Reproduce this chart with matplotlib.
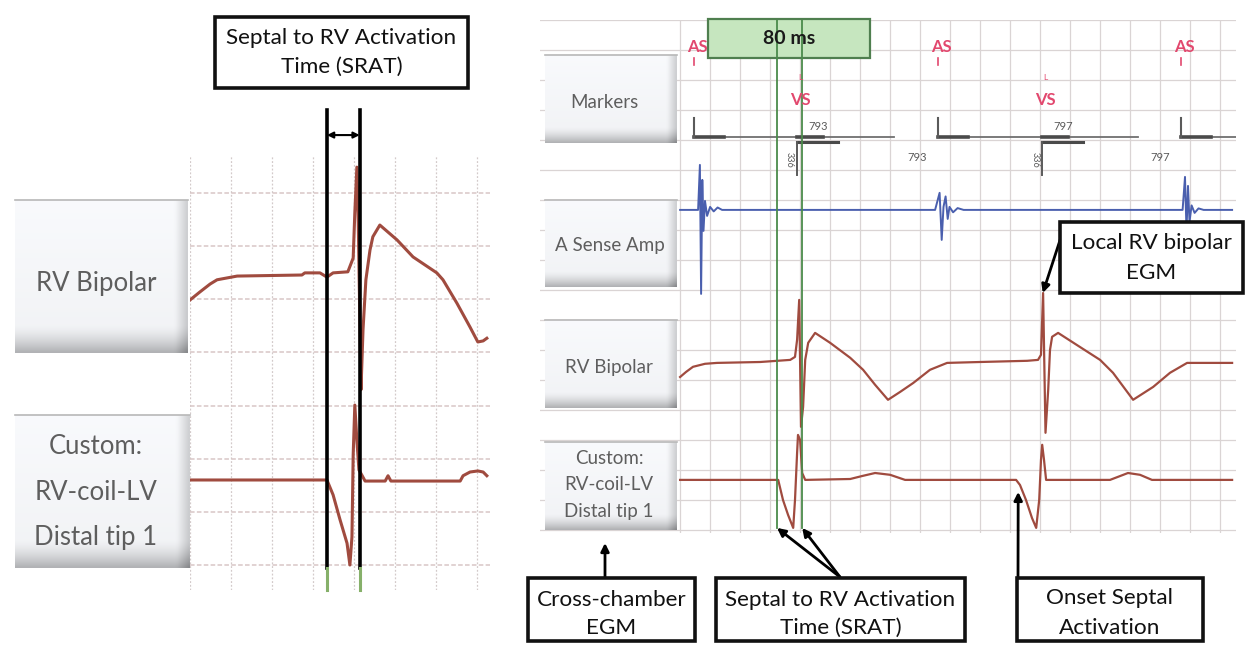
import numpy as np
import matplotlib.pyplot as plt
from matplotlib.patches import Rectangle

plt.rcParams['font.family'] = ['Lato', 'DejaVu Sans']

W, H = 1246, 649

# ---- right panel traces: time in ms, amplitude in grid divisions ----
asense_t = [0, 60, 66, 70, 74, 78, 83, 90, 100, 112, 125, 140,
            850, 865, 872, 878, 885, 892, 898, 910, 925, 945,
            1675, 1683, 1688, 1693, 1698, 1705, 1715, 1728, 1745, 1840]
asense_v = [0, 0, 1.5, -2.8, 1.0, -0.7, 0.3, -0.2, 0.1, -0.05, 0.08, 0,
            0, 0.57, -1.0, 0.1, 0.45, -0.3, 0.1, -0.08, 0.06, 0,
            0, 1.1, -0.7, 0.8, -0.4, 0.15, -0.1, 0.05, 0, 0]

rv_t = [0, 20, 43, 83, 123, 267, 367, 383, 390, 397, 403, 410, 417, 427, 450,
        500, 567, 610, 650, 693, 733, 777, 833, 890, 1000, 1157, 1193, 1203,
        1210, 1218, 1227, 1233, 1240, 1260, 1333, 1400, 1443, 1510, 1577, 1633,
        1690, 1840]
rv_v = [-0.47, -0.3, -0.13, -0.03, 0, 0.03, 0.1, 0.2, 0.77, 2.1, -2.13, -1.47,
        0.1, 0.67, 1.0, 0.67, 0.17, -0.23, -0.73, -1.23, -0.97, -0.67, -0.23, 0,
        0.03, 0.07, 0.1, 0.27, 2.33, -2.33, -0.9, 0.43, 0.87, 1.0, 0.53, 0.1,
        -0.33, -1.23, -0.8, -0.33, 0, 0]

cust_t = [0, 327, 343, 360, 377, 383, 390, 393, 400, 407, 417, 567, 607, 650,
          700, 750, 1120, 1133, 1153, 1173, 1187, 1197, 1203, 1207, 1213, 1220,
          1433, 1467, 1493, 1533, 1573, 1840]
cust_v = [0, 0, -0.67, -1.17, -1.6, -0.67, 0.9, 1.5, 1.33, 0.23, 0, 0.03, 0.13,
          0.23, 0.17, 0, 0, -0.17, -0.67, -1.27, -1.6, -0.67, 0.67, 1.17, 0.67,
          0, 0, 0.13, 0.23, 0.17, 0, 0]

# marker channel events (ms)
as_times = [47, 860, 1670]
vs_times = [390, 1207]
av_labels = ['336', '336']
vv_labels = ['793', '797']
aa_labels = ['793', '797']
srat_right = [323, 407]

# ---- left (zoomed) panel ----
lrv_t = [0, 24, 49, 66, 115, 273, 280, 317, 334, 349, 385, 398, 402, 407, 410,
         417, 422, 429, 439, 446, 463, 505, 544, 602, 617, 651, 683, 702, 715, 724]
lrv_v = [-0.47, -0.32, -0.17, -0.09, -0.02, 0, 0.04, 0.04, -0.04, 0.04, 0.06,
         0.32, 1.17, 2.03, 1.17, -2.16, -1.03, -0.09, 0.47, 0.72, 0.94, 0.66,
         0.34, 0.04, -0.09, -0.53, -0.98, -1.26, -1.24, -1.19]
lcu_t = [0, 334, 349, 366, 383, 390, 395, 398, 402, 407, 412, 420, 427, 476,
         483, 490, 659, 666, 683, 702, 715, 724]
lcu_v = [0, 0, -0.28, -0.75, -1.19, -1.6, -1.07, 0.47, 1.41, 0.75, 0.19, 0.08,
         -0.02, -0.02, 0.08, -0.02, -0.02, 0.08, 0.15, 0.17, 0.15, 0.08]
srat_left = [334, 414]

# channel baselines (grid divisions)
MK, AS_BASE, RV_BASE, CU_BASE = 13.1, 10.67, 5.57, 1.67
L_RV_BASE, L_CU_BASE = 5.457, 1.6

TRACE = '#a04b3f'
BLUE = '#4a5fae'
RED = '#e2486e'
GRAY = '#5a5a5a'
LABEL = '#5e5e5e'


def frac(x0, y0, x1, y1):
    return [x0 / W, 1 - y1 / H, (x1 - x0) / W, (y1 - y0) / H]


def pixel_axes(z):
    ax = fig.add_axes([0, 0, 1, 1], zorder=z)
    ax.set_xlim(0, W)
    ax.set_ylim(H, 0)
    ax.set_autoscale_on(False)
    ax.axis('off')
    ax.patch.set_alpha(0)
    return ax


def clean(ax):
    ax.patch.set_alpha(0)
    ax.tick_params(length=0, labelbottom=False, labelleft=False)
    for s in ax.spines.values():
        s.set_visible(False)


def button(ax, x0, y0, x1, y1):
    v = np.linspace(0, 1, 64)[:, None]
    u = np.linspace(0, 1, 64)[None, :]
    shade = 0.975 - 0.03 * v + 0.0 * u
    shade = shade - np.clip((v - 0.82) / 0.18, 0, 1) ** 1.5 * 0.25
    shade = shade - np.clip((u - 0.93) / 0.07, 0, 1) * 0.16
    img = np.dstack([shade, shade + 0.005, shade + 0.015]).clip(0, 1)
    ax.imshow(img, extent=(x0, x1, y1, y0), aspect='auto',
              interpolation='bilinear', zorder=2)
    ax.plot([x0, x1], [y0, y0], color='#b8b8b8', lw=1.2, zorder=3)


def lines_text(ax, x, ys, lines, size, color, weight='normal'):
    for y, s in zip(ys, lines):
        ax.text(x, y, s, ha='center', va='center', fontsize=size,
                color=color, fontweight=weight, zorder=5)


def note_box(ax, x0, y0, x1, y1, lines, ys, size=16.2):
    ax.add_patch(Rectangle((x0, y0), x1 - x0, y1 - y0, facecolor='white',
                           edgecolor='#111111', lw=2.6, zorder=4))
    lines_text(ax, (x0 + x1) / 2, ys, lines, size, '#111111')


fig = plt.figure(figsize=(W / 100, H / 100), dpi=100)
fig.patch.set_facecolor('white')
ax_bg = pixel_axes(0)

# ---------------- left panel ----------------
axL = fig.add_axes(frac(190, 155, 490, 590), zorder=1)
axL.set_xlim(0, 731.7)
axL.set_ylim(-0.47, 7.715)
axL.set_xticks(range(0, 701, 100))
axL.set_yticks(range(0, 8))
axL.grid(True, axis='x', color='#d3caca', lw=0.9, ls=(0, (1.5, 1.5)))
axL.grid(True, axis='y', color='#d8c6c6', lw=1.1, ls=(0, (3, 1.5)))
clean(axL)
axL.plot(lrv_t, np.array(lrv_v) + L_RV_BASE, color=TRACE, lw=2.2, zorder=3)
axL.plot(lcu_t, np.array(lcu_v) + L_CU_BASE, color=TRACE, lw=2.2, zorder=3)
for t in srat_left:
    axL.axvline(t, ymin=0.0506, ymax=1.1034, color='black', lw=2.6,
                clip_on=False, zorder=4)
    axL.axvline(t, ymin=0.0, ymax=0.0506, color='#86b06a', lw=2.2,
                clip_on=False, zorder=4)
axL.annotate('', xy=(srat_left[0], 8.09), xytext=(srat_left[1], 8.09),
             annotation_clip=False,
             arrowprops=dict(arrowstyle='<|-|>', color='black', lw=1.5,
                             mutation_scale=9, shrinkA=0, shrinkB=0))

# ---------------- right panel ----------------
axR = fig.add_axes(frac(540, 20, 1236, 533), zorder=1)
axR.set_xlim(-467, 1853)
axR.set_ylim(-0.1, 17.0)
axR.set_xticks(range(0, 1801, 100))
axR.set_yticks(range(0, 18))
axR.grid(True, color='#dad4d4', lw=0.9)
clean(axR)

axR.plot(asense_t, np.array(asense_v) + AS_BASE, color=BLUE, lw=1.4, zorder=3)
axR.plot(rv_t, np.array(rv_v) + RV_BASE, color=TRACE, lw=1.6, zorder=3)
axR.plot(cust_t, np.array(cust_v) + CU_BASE, color=TRACE, lw=1.6, zorder=3)

# marker channel
for t in as_times:
    axR.plot([t, min(t + 667, 1853)], [MK, MK], color='#707070', lw=1.3, zorder=3)
    axR.plot([t, t + 100], [MK, MK], color='#4a4a4a', lw=2.6, zorder=3)
    axR.plot([t, t], [MK, MK + 0.63], color=GRAY, lw=1.5, zorder=3)
    axR.plot([t, t], [15.5, 15.75], color=RED, lw=1.2, zorder=3)
    axR.text(t + 10, 16.1, 'AS', color=RED, fontsize=12, fontweight='bold',
             ha='center', va='center', zorder=5)
for i, t in enumerate(vs_times):
    axR.plot([t, t + 137], [MK - 0.17, MK - 0.17], color='#4a4a4a', lw=2.2, zorder=3)
    axR.plot([t, t + 85], [MK, MK], color='#4a4a4a', lw=2.6, zorder=3)
    axR.plot([t, t], [MK - 0.17, MK - 1.27], color=GRAY, lw=1.4, zorder=3)
    axR.text(t + 12, 14.33, 'VS', color=RED, fontsize=12, fontweight='bold',
             ha='center', va='center', zorder=5)
    axR.text(t + 10, 15.07, 'L', color=RED, fontsize=6, ha='center',
             va='center', zorder=5)
    axR.text(t - 25, 12.35, av_labels[i], color=GRAY, fontsize=6.5,
             rotation=-90, ha='center', va='center', zorder=5)
    axR.text(t + 70, 13.45, vv_labels[i], color=GRAY, fontsize=8,
             ha='center', va='center', zorder=5)
    axR.text(as_times[i + 1] - 70, 12.43, aa_labels[i], color=GRAY,
             fontsize=8, ha='center', va='center', zorder=5)

# 80 ms box and SRAT lines
axR.add_patch(Rectangle((708, 19), 162, 39, transform=ax_bg.transData,
                        facecolor='#c6e6bf', edgecolor='#4f7f4f', lw=1.6,
                        clip_on=False, zorder=2.5))
axR.text(789, 39, '80 ms', transform=ax_bg.transData, fontsize=14,
         fontweight='bold', color='#1a1a1a', ha='center', va='center', zorder=6)
for t in srat_right:
    axR.axvline(t, ymin=0.0097, ymax=1.0, color='#4b8b4b', lw=1.3, zorder=4)

# ---------------- overlay: labels, boxes, arrows ----------------
ax_ov = pixel_axes(3)

button(ax_ov, 15, 200, 188, 353)
lines_text(ax_ov, 96, [283], ['RV Bipolar'], 18.5, LABEL)
button(ax_ov, 15, 415, 190, 568)
lines_text(ax_ov, 96, [447, 493, 537],
           ['Custom:', 'RV-coil-LV', 'Distal tip 1'], 18.5, LABEL)

button(ax_ov, 545, 55, 677, 143)
lines_text(ax_ov, 604, [102], ['Markers'], 13.5, LABEL)
button(ax_ov, 545, 200, 677, 287)
lines_text(ax_ov, 610, [245], ['A Sense Amp'], 13.5, LABEL)
button(ax_ov, 545, 320, 677, 408)
lines_text(ax_ov, 609, [367], ['RV Bipolar'], 13.5, LABEL)
button(ax_ov, 545, 442, 677, 530)
lines_text(ax_ov, 609, [459, 485, 512],
           ['Custom:', 'RV-coil-LV', 'Distal tip 1'], 13.5, LABEL)

note_box(ax_ov, 215, 17, 468, 88, ['Septal to RV Activation', 'Time (SRAT)'],
         [38, 67])
note_box(ax_ov, 1060, 222, 1243, 293, ['Local RV bipolar', 'EGM'], [243, 273])
note_box(ax_ov, 528, 578, 695, 641, ['Cross-chamber', 'EGM'], [600, 628])
note_box(ax_ov, 716, 578, 965, 641, ['Septal to RV Activation', 'Time (SRAT)'],
         [600, 628])
note_box(ax_ov, 1017, 578, 1203, 641, ['Onset Septal', 'Activation'], [598, 628])

arrow = dict(arrowstyle='-|>', color='black', lw=2, mutation_scale=12,
             shrinkA=0, shrinkB=0)
ax_ov.annotate('', xy=(605, 543), xytext=(605, 578), arrowprops=arrow)
for t in srat_right:
    ax_ov.annotate('', xy=(t, 0.07), xycoords=axR.transData,
                   xytext=(840, 577), textcoords='data', arrowprops=arrow)
ax_ov.annotate('', xy=(1127, CU_BASE - 0.4), xycoords=axR.transData,
               xytext=(1018, 578), textcoords='data', arrowprops=arrow)
ax_ov.annotate('', xy=(1209, RV_BASE + 2.33), xycoords=axR.transData,
               xytext=(1063, 231), textcoords='data', arrowprops=arrow)

fig.savefig('out.png', dpi=100, facecolor='white')
